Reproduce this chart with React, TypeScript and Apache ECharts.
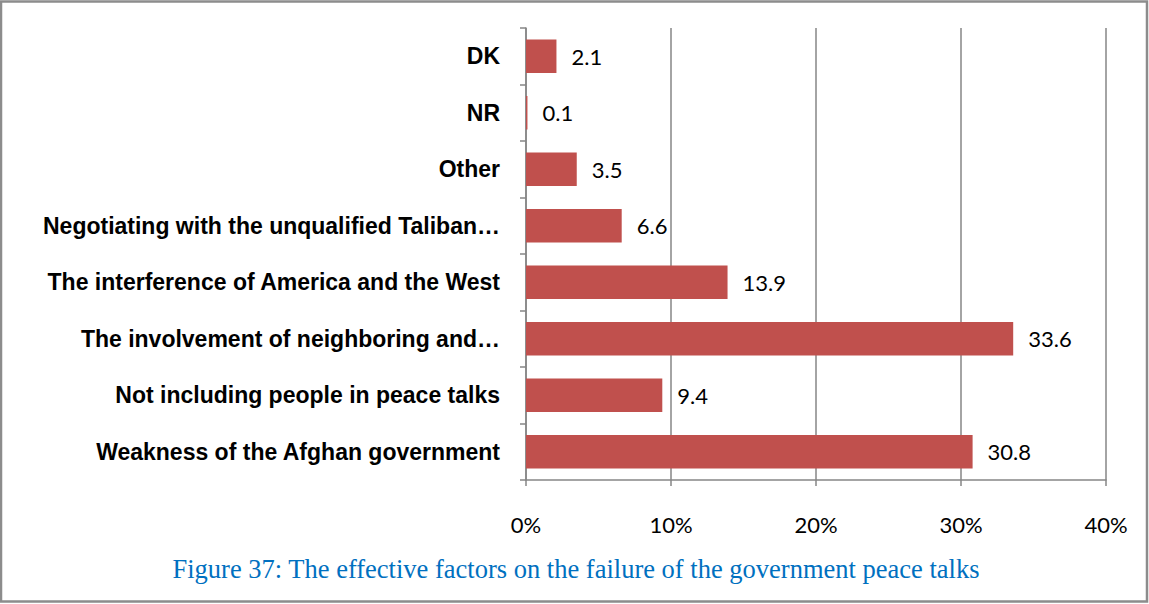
import React, { useEffect, useRef } from "react";
import * as echarts from "echarts";

const categories = [
  "Weakness of the Afghan government",
  "Not including people in peace talks",
  "The involvement of neighboring and…",
  "The interference of America and the West",
  "Negotiating with the unqualified Taliban…",
  "Other",
  "NR",
  "DK",
];
const values = [30.8, 9.4, 33.6, 13.9, 6.6, 3.5, 0.1, 2.1];
const caption = "Figure 37: The effective factors on the failure of the government peace talks";

export default function App() {
  const ref = useRef<HTMLDivElement>(null);
  useEffect(() => {
    document.body.style.margin = "0";
    const chart = echarts.init(ref.current!, null, { renderer: "svg" });
    chart.setOption({
      animation: false,
      backgroundColor: "#ffffff",
      grid: { left: 526, right: 43, top: 28, bottom: 124 },
      xAxis: {
        type: "value",
        min: 0,
        max: 40,
        interval: 10,
        axisLine: { show: true, lineStyle: { color: "#868686", width: 1.5 } },
        axisTick: { show: true, length: 6, lineStyle: { color: "#868686", width: 1.5 } },
        splitLine: { show: true, lineStyle: { color: "#868686", width: 1.5 } },
        axisLabel: {
          formatter: "{value}%",
          color: "#000",
          fontFamily: "Lato, 'Open Sans', sans-serif",
          fontSize: 22,
          margin: 33,
        },
      },
      yAxis: {
        type: "category",
        data: categories,
        axisLine: { show: true, lineStyle: { color: "#868686", width: 1.5 } },
        axisTick: { show: true, length: 6, lineStyle: { color: "#868686", width: 1.5 } },
        axisLabel: {
          color: "#000",
          fontFamily: "'Liberation Sans', Arial, sans-serif",
          fontWeight: "bold",
          fontSize: 23,
          margin: 26,
        },
      },
      series: [
        {
          type: "bar",
          data: values,
          barCategoryGap: "41%",
          itemStyle: { color: "#C0504D" },
          label: {
            show: true,
            position: "right",
            distance: 15,
            color: "#000",
            fontFamily: "Lato, 'Open Sans', sans-serif",
            fontSize: 22,
          },
        },
      ],
      graphic: [
        {
          type: "rect",
          shape: { x: 1, y: 1.5, width: 1146, height: 600 },
          style: { fill: "none", stroke: "#8c8c8c", lineWidth: 2.5 },
          silent: true,
        },
        {
          type: "text",
          x: 576,
          y: 569,
          style: {
            text: caption,
            fill: "#0070C0",
            font: "26.5px 'Liberation Serif', 'DejaVu Serif', serif",
            textAlign: "center",
            textVerticalAlign: "middle",
          },
        },
      ],
    });
    return () => chart.dispose();
  }, []);
  return <div ref={ref} style={{ width: 1149, height: 604 }} />;
}
